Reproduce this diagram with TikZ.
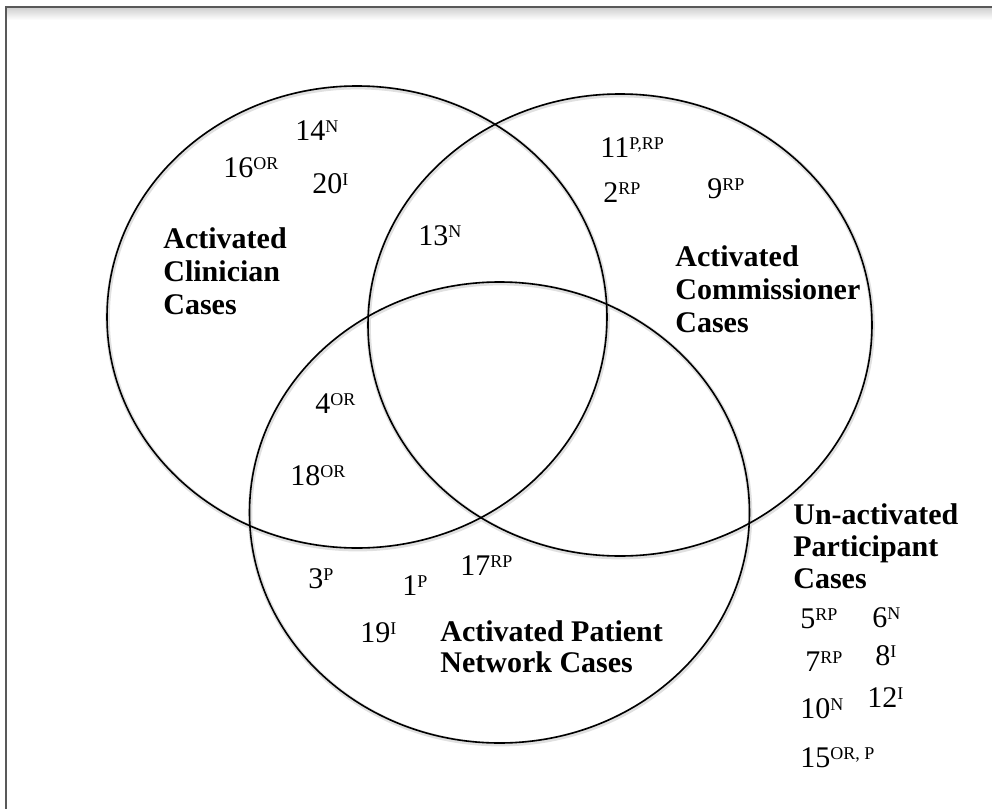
\documentclass[tikz,border=0pt]{standalone}
\usepackage{fontspec}
\setmainfont{Liberation Serif}
\newcommand{\casetag}[1]{\raisebox{4pt}{\fontsize{9}{9}\selectfont #1}}
\begin{document}
\begin{tikzpicture}[x=0.5pt,y=-0.5pt,
  casenum/.style={anchor=base west, inner sep=0pt, font=\fontsize{15}{15}\selectfont},
  setlabel/.style={anchor=north west, inner sep=0pt, align=left, font=\bfseries\fontsize{15}{16.5}\selectfont},
  setring/.style={draw=black, line width=0.8pt},
  ringshadow/.style={draw=black!12, line width=2.2pt, shift={(0.6,1.2)}},
  framecol/.style={draw=black!65, line width=1.1pt}]
\useasboundingbox (0,0) rectangle (992,809);
\fill[white] (0,0) rectangle (992,809);

% page frame with a soft shadow under its top edge
\shade[top color=black!18, bottom color=white] (7,8) rectangle (992,20);
\coordinate (frameBL) at (6,809);
\coordinate (frameTL) at (6,7);
\coordinate (frameTR) at (992,7);
\draw[framecol] (frameBL) -- (frameTL) -- (frameTR);

% the three sets: soft shadows first, then the outlines
\draw[ringshadow] (357,317) ellipse [x radius=125pt, y radius=115.5pt];
\draw[ringshadow] (620,325) ellipse [x radius=126pt, y radius=115.5pt];
\draw[ringshadow] (499.5,512.5) ellipse [x radius=125pt, y radius=115.25pt];
\draw[setring] (357,317) ellipse [x radius=125pt, y radius=115.5pt];
\draw[setring] (620,325) ellipse [x radius=126pt, y radius=115.5pt];
\draw[setring] (499.5,512.5) ellipse [x radius=125pt, y radius=115.25pt];

% set labels
\node[setlabel] (clinician) at (163,227) {Activated\\Clinician\\Cases};
\node[setlabel] (commissioner) at (675,245) {Activated\\Commissioner\\Cases};
\node[setlabel, font=\bfseries\fontsize{15}{15.5}\selectfont] (patient) at (440,620) {Activated Patient\\Network Cases};
\node[setlabel, font=\bfseries\fontsize{15}{16}\selectfont] (unactivated) at (793,503) {Un-activated\\Participant\\Cases};

% clinician cases
\node[casenum] (c14) at (295,140) {14\casetag{N}};
\node[casenum] (c16) at (223,177) {16\casetag{OR}};
\node[casenum] (c20) at (312,193) {20\casetag{I}};
\node[casenum] (c13) at (418,245) {13\casetag{N}};
\node[casenum] (c4) at (315,413) {4\casetag{OR}};
\node[casenum] (c18) at (290,485) {18\casetag{OR}};

% commissioner cases
\node[casenum] (c11) at (600,157) {11\casetag{P,RP}};
\node[casenum] (c2) at (603,202) {2\casetag{RP}};
\node[casenum] (c9) at (707,198) {9\casetag{RP}};

% patient network cases
\node[casenum] (c3) at (308,588) {3\casetag{P}};
\node[casenum] (c1) at (402,595) {1\casetag{P}};
\node[casenum] (c17) at (460,575) {17\casetag{RP}};
\node[casenum] (c19) at (360,642) {19\casetag{I}};

% un-activated cases
\node[casenum] (c5) at (800,628) {5\casetag{RP}};
\node[casenum] (c6) at (872,627) {6\casetag{N}};
\node[casenum] (c7) at (805,671) {7\casetag{RP}};
\node[casenum] (c8) at (875,665) {8\casetag{I}};
\node[casenum] (c10) at (800,718) {10\casetag{N}};
\node[casenum] (c12) at (867,707) {12\casetag{I}};
\node[casenum] (c15) at (800,767) {15\casetag{OR, P}};
\end{tikzpicture}
\end{document}
